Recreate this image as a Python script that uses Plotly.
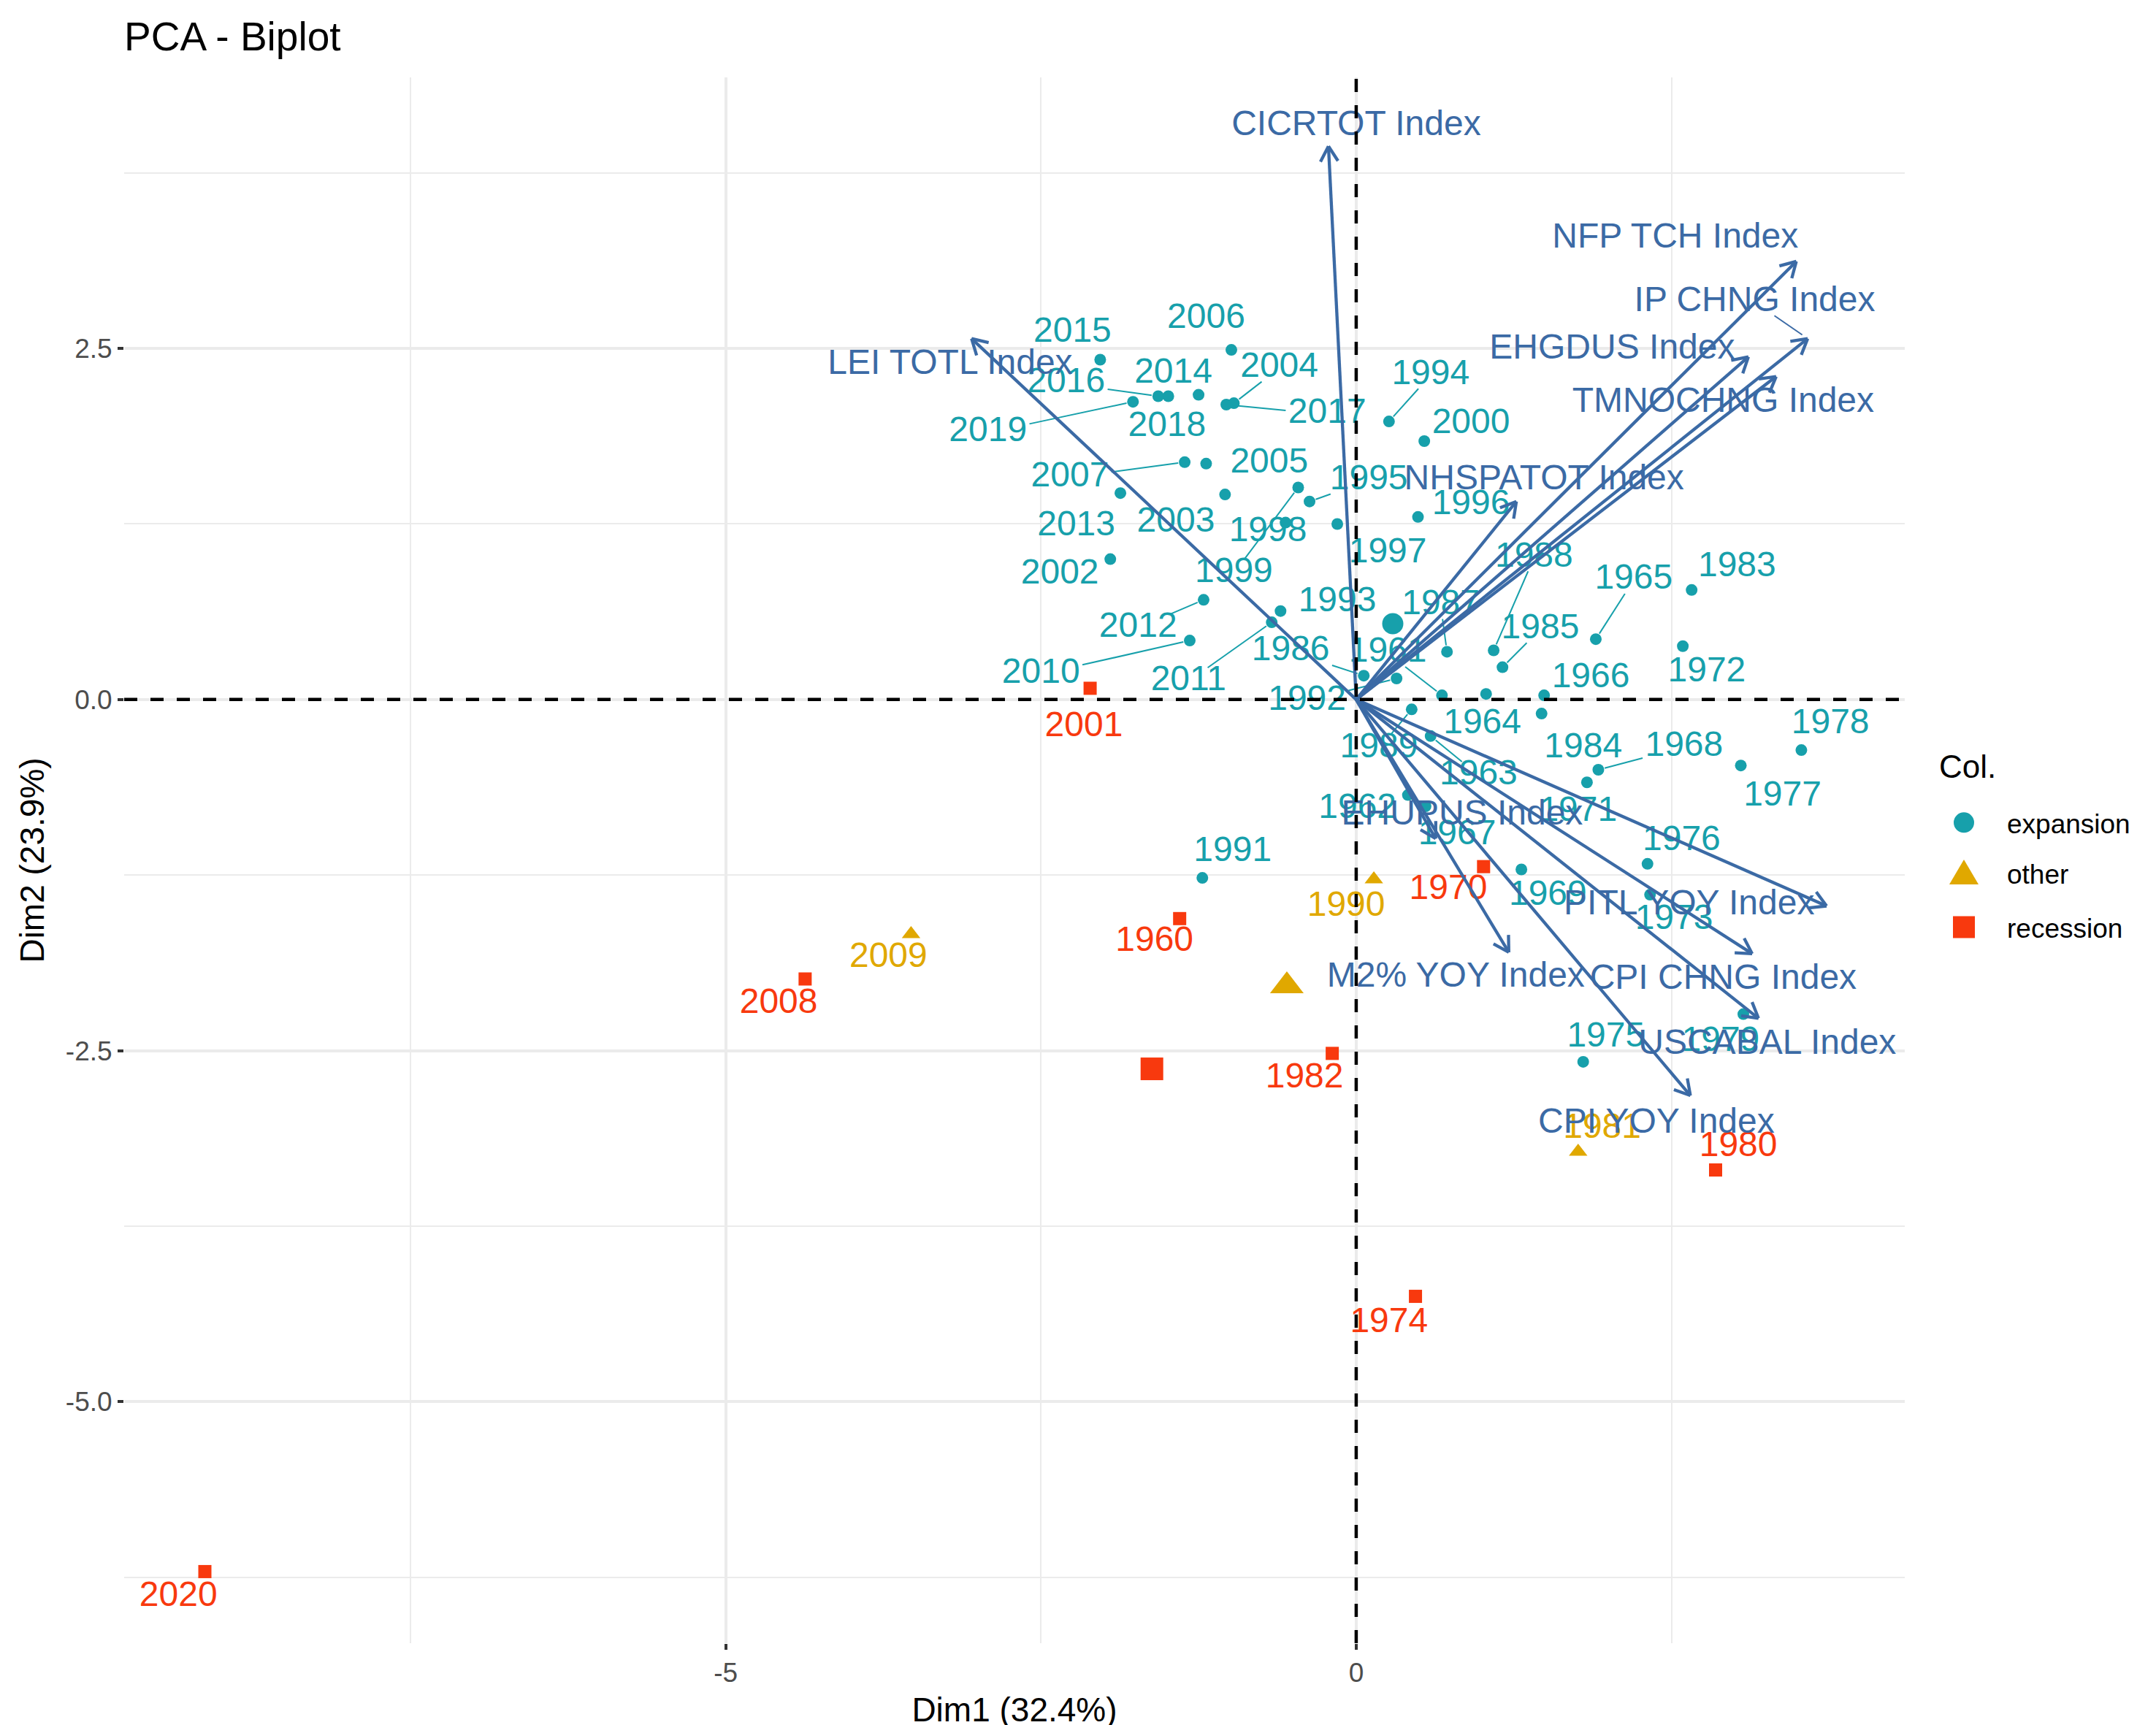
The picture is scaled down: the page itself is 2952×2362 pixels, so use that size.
import math
import plotly.graph_objects as go

# --- individuals (years) : PCA coordinates ---
exp_years = [1961, 1962, 1963, 1964, 1965, 1966, 1967, 1968, 1969, 1971,
             1972, 1973, 1975, 1976, 1977, 1978, 1979, 1983, 1984, 1985,
             1986, 1987, 1988, 1989, 1991, 1992, 1993, 1994, 1995, 1996,
             1997, 1998, 1999, 2000, 2002, 2003, 2004, 2005, 2006, 2007,
             2010, 2011, 2012, 2013, 2014, 2015, 2016, 2017, 2018, 2019]
exp_dim1 = [0.68, 0.41, 0.59, 1.03, 1.90, 1.49, 0.55, 1.92, 1.31, 1.83,
            2.59, 2.33, 1.80, 2.31, 3.05, 3.53, 3.07, 2.66, 1.47, 1.16,
            0.06, 0.72, 1.09, 0.44, -1.22, 0.32, -0.60, 0.26, -0.37, 0.49,
            -0.15, -0.56, -0.46, 0.54, -1.95, -1.04, -0.97, -1.19, -0.99, -1.36,
            -1.32, -0.67, -1.21, -1.87, -1.49, -2.03, -1.57, -1.03, -1.25, -1.77]
exp_dim2 = [0.03, -0.68, -0.26, 0.04, 0.43, 0.03, -0.76, -0.50, -1.21, -0.59,
            0.38, -1.39, -2.58, -1.17, -0.47, -0.36, -2.24, 0.78, -0.10, 0.23,
            0.17, 0.34, 0.35, -0.07, -1.27, 0.15, 0.63, 1.98, 1.41, 1.30,
            1.25, 1.26, 1.51, 1.84, 1.00, 1.46, 2.11, 1.68, 2.49, 1.69,
            0.42, 0.55, 0.71, 1.47, 2.16, 2.42, 2.16, 2.10, 2.17, 2.12]

oth_years = [1981, 1990, 2009]
oth_dim1 = [1.76, 0.14, -3.53]
oth_dim2 = [-3.22, -1.28, -1.67]

rec_years = [1960, 1970, 1974, 1980, 1982, 2001, 2008, 2020]
rec_dim1 = [-1.40, 1.01, 0.47, 2.85, -0.19, -2.11, -4.37, -9.13]
rec_dim2 = [-1.56, -1.19, -4.25, -3.35, -2.52, 0.08, -1.99, -6.21]

# group means (big markers)
centroid_dim1 = {"expansion": 0.29, "other": -0.55, "recession": -1.62}
centroid_dim2 = {"expansion": 0.54, "other": -2.04, "recession": -2.63}

# --- variables : arrow tips ---
var_names = ["CICRTOT Index", "NFP TCH Index", "IP CHNG Index", "EHGDUS Index",
             "TMNOCHNG Index", "LEI TOTL Index", "NHSPATOT Index", "EHUPUS Index",
             "M2% YOY Index", "PITL YOY Index", "CPI CHNG Index", "USCABAL Index",
             "CPI YOY Index"]
var_dim1 = [-0.22, 3.49, 3.58, 3.11, 3.33, -3.05, 1.27, 0.63, 1.21, 3.73, 3.14, 3.19, 2.65]
var_dim2 = [3.94, 3.12, 2.57, 2.44, 2.30, 2.57, 1.41, -0.99, -1.80, -1.47, -1.81, -2.27, -2.82]

# --- where the repelled labels ended up ---
label_pos = {
    "2015": (-2.25, 2.61), "2006": (-1.19, 2.71), "2014": (-1.45, 2.32), "2004": (-0.61, 2.36),
    "2016": (-2.30, 2.25), "2017": (-0.23, 2.03), "2019": (-2.92, 1.90), "2018": (-1.50, 1.94),
    "1994": (0.59, 2.31), "2000": (0.91, 1.96), "2007": (-2.27, 1.58), "2005": (-0.69, 1.68),
    "1995": (0.10, 1.56), "2013": (-2.22, 1.23), "2003": (-1.43, 1.26), "1996": (0.91, 1.38),
    "1998": (-0.70, 1.19), "1997": (0.25, 1.04), "2002": (-2.35, 0.89), "1999": (-0.97, 0.90),
    "1988": (1.41, 1.01), "1965": (2.20, 0.85), "1983": (3.02, 0.94), "1993": (-0.15, 0.69),
    "1987": (0.67, 0.67), "2012": (-1.73, 0.51), "1985": (1.46, 0.50), "1986": (-0.52, 0.34),
    "1961": (0.25, 0.33), "1972": (2.78, 0.19), "2010": (-2.50, 0.18), "2011": (-1.33, 0.13),
    "1966": (1.86, 0.15), "1992": (-0.39, -0.01), "1964": (1.00, -0.18), "1978": (3.76, -0.18),
    "1984": (1.80, -0.35), "1968": (2.60, -0.34), "1989": (0.18, -0.35), "1963": (0.97, -0.54),
    "1977": (3.38, -0.69), "1962": (0.01, -0.78), "1971": (1.76, -0.80), "1967": (0.80, -0.97),
    "1976": (2.58, -1.01), "1991": (-0.98, -1.09), "1969": (1.52, -1.40), "1973": (2.52, -1.57),
    "1975": (1.98, -2.41), "1979": (2.89, -2.44),
    "2001": (-2.16, -0.20), "1990": (-0.08, -1.48), "1970": (0.73, -1.36), "1960": (-1.60, -1.73),
    "2009": (-3.71, -1.84), "2008": (-4.58, -2.17), "1982": (-0.41, -2.70), "1981": (1.95, -3.06),
    "1980": (3.03, -3.19), "1974": (0.26, -4.44), "2020": (-9.34, -6.39),
    "CICRTOT Index": (0.00, 4.08), "NFP TCH Index": (2.53, 3.28), "IP CHNG Index": (3.16, 2.83),
    "EHGDUS Index": (2.03, 2.49), "LEI TOTL Index": (-3.22, 2.38), "TMNOCHNG Index": (2.91, 2.11),
    "NHSPATOT Index": (1.49, 1.56), "EHUPUS Index": (0.84, -0.83), "PITL YOY Index": (2.64, -1.47),
    "M2% YOY Index": (0.79, -1.98), "CPI CHNG Index": (2.91, -2.00), "USCABAL Index": (3.26, -2.46),
    "CPI YOY Index": (2.38, -3.02),
}
# labels that got a leader segment
seg_labels = ["2019", "2016", "2017", "2004", "2007", "1994", "1995", "1999", "2012",
              "2010", "2011", "1986", "1988", "1965", "1985", "1968", "1987", "1961",
              "1989", "1963", "1992", "IP CHNG Index"]

COL = {"expansion": "#17A0AB", "other": "#E0A800", "recession": "#F8390E"}
SYM = {"expansion": "circle", "other": "triangle-up", "recession": "square"}
SIZE = {"expansion": 16, "other": 22, "recession": 18}
BIG = {"expansion": 29, "other": 40, "recession": 31}
ARROW = "#3B6AA5"
FONT = "Liberation Sans"
LAB_FS = 48

# plot geometry (px) to place arrow heads / segments in screen space
FW, FH = 2952, 2362
ML, MR, MT, MB = 162, 352, 98, 108
X0, X1 = -9.77, 4.35
Y0, Y1 = -6.72, 4.43
PW, PH = FW - ML - MR, FH - MT - MB
sx = PW / (X1 - X0)
sy = PH / (Y1 - Y0)


def paper_x(px):
    return (px - ML) / PW


def paper_y(py):
    return (FH - MB - py) / PH


groups = {
    "expansion": (exp_years, exp_dim1, exp_dim2),
    "other": (oth_years, oth_dim1, oth_dim2),
    "recession": (rec_years, rec_dim1, rec_dim2),
}

fig = go.Figure()


def segment(lab, px, py):
    cx, cy = label_pos[lab]
    dx, dy = (px - cx) * sx, (py - cy) * sy
    hw = 0.5 * len(lab) * 0.55 * LAB_FS + 4
    hh = 0.5 * LAB_FS * 0.78
    t = min(hw / abs(dx) if dx else 1e9, hh / abs(dy) if dy else 1e9)
    if t >= 1:
        return None
    d = math.hypot(dx, dy)
    ex, ey = dx * (1 - 9 / d), dy * (1 - 9 / d)
    return [cx + dx * t / sx, cx + ex / sx], [cy + dy * t / sy, cy + ey / sy]


# leader segments for individuals
for g, (yrs, d1, d2) in groups.items():
    xs, ys = [], []
    for yr, a, b in zip(yrs, d1, d2):
        if str(yr) in seg_labels:
            s = segment(str(yr), a, b)
            if s:
                xs += s[0] + [None]
                ys += s[1] + [None]
    if xs:
        fig.add_trace(go.Scatter(x=xs, y=ys, mode="lines", line=dict(color=COL[g], width=2),
                                 showlegend=False, hoverinfo="skip"))

# individuals
for g, (yrs, d1, d2) in groups.items():
    fig.add_trace(go.Scatter(
        x=d1, y=d2, mode="markers", name=g, showlegend=False,
        marker=dict(color=COL[g], symbol=SYM[g], size=SIZE[g], line=dict(width=0)),
    ))
    fig.add_trace(go.Scatter(
        x=[centroid_dim1[g]], y=[centroid_dim2[g]], mode="markers", showlegend=False,
        marker=dict(color=COL[g], symbol=SYM[g], size=BIG[g], line=dict(width=0)),
    ))
    fig.add_trace(go.Scatter(
        x=[label_pos[str(y)][0] for y in yrs], y=[label_pos[str(y)][1] for y in yrs],
        mode="text", text=[str(y) for y in yrs], textposition="middle center",
        textfont=dict(color=COL[g], size=LAB_FS, family=FONT), showlegend=False, hoverinfo="skip",
    ))

# variable arrows
ax, ay, hx, hy = [], [], [], []
head = 24
for tx, ty in zip(var_dim1, var_dim2):
    ax += [0, tx, None]
    ay += [0, ty, None]
    ang = math.atan2(ty * sy, tx * sx)
    for s in (1, -1):
        a2 = ang + s * math.radians(30)
        hx += [tx - head * math.cos(a2) / sx, tx, None]
        hy += [ty - head * math.sin(a2) / sy, ty, None]
fig.add_trace(go.Scatter(x=ax, y=ay, mode="lines", line=dict(color=ARROW, width=4.3),
                         showlegend=False, hoverinfo="skip"))
fig.add_trace(go.Scatter(x=hx, y=hy, mode="lines", line=dict(color=ARROW, width=4.3),
                         showlegend=False, hoverinfo="skip"))

vx, vy = [], []
for n, tx, ty in zip(var_names, var_dim1, var_dim2):
    if n in seg_labels:
        s = segment(n, tx, ty)
        if s:
            vx += s[0] + [None]
            vy += s[1] + [None]
if vx:
    fig.add_trace(go.Scatter(x=vx, y=vy, mode="lines", line=dict(color=ARROW, width=2),
                             showlegend=False, hoverinfo="skip"))
fig.add_trace(go.Scatter(
    x=[label_pos[n][0] for n in var_names], y=[label_pos[n][1] for n in var_names],
    mode="text", text=var_names, textposition="middle center",
    textfont=dict(color=ARROW, size=LAB_FS, family=FONT), showlegend=False, hoverinfo="skip",
))

# dashed reference lines (drawn on top, like the original)
fig.add_shape(type="line", xref="x", yref="paper", x0=0, x1=0, y0=0, y1=1, layer="above",
              line=dict(color="black", width=4.5, dash="18px,18px"))
fig.add_shape(type="line", xref="paper", yref="y", x0=0, x1=1, y0=0, y1=0, layer="above",
              line=dict(color="black", width=4.5, dash="18px,18px"))

# legend drawn by hand (ggplot-like keys)
fig.add_annotation(text="Col.", xref="paper", yref="paper", x=paper_x(2645), y=paper_y(1047),
                   xanchor="left", yanchor="middle", showarrow=False,
                   font=dict(size=44, color="black", family=FONT))
key_x = paper_x(2681)
key_shapes = {
    "other": "M -20 -15 L 20 -15 L 0 19 Z",
    "recession": "M -15 -15 L 15 -15 L 15 15 L -15 15 Z",
}
for g, ky in zip(["expansion", "other", "recession"], [1124, 1194, 1268]):
    if g == "expansion":
        fig.add_shape(type="circle", xref="paper", yref="paper", xsizemode="pixel",
                      ysizemode="pixel", xanchor=key_x, yanchor=paper_y(ky),
                      x0=-14, x1=14, y0=-14, y1=14, fillcolor=COL[g], line=dict(width=0))
    else:
        fig.add_shape(type="path", xref="paper", yref="paper", xsizemode="pixel",
                      ysizemode="pixel", xanchor=key_x, yanchor=paper_y(ky),
                      path=key_shapes[g], fillcolor=COL[g], line=dict(width=0))
    fig.add_annotation(text=g, xref="paper", yref="paper", x=paper_x(2738), y=paper_y(ky + 2),
                       xanchor="left", yanchor="middle", showarrow=False,
                       font=dict(size=37, color="black", family=FONT))

fig.update_layout(
    width=FW, height=FH,
    margin=dict(l=ML, r=MR, t=MT, b=MB),
    paper_bgcolor="white", plot_bgcolor="white",
    font=dict(family=FONT, color="black"),
    showlegend=False,
    title=dict(text="PCA - Biplot", x=ML / FW, xanchor="left", y=1 - 42 / FH, yanchor="middle",
               font=dict(size=55, color="black")),
    xaxis=dict(
        range=[X0, X1], tickvals=[-5, 0], ticktext=["-5", "0"],
        showgrid=True, gridcolor="#EBEBEB", gridwidth=4.4, zeroline=False,
        minor=dict(tickvals=[-7.5, -2.5, 2.5], showgrid=True, gridcolor="#EBEBEB", gridwidth=2.2),
        ticks="outside", ticklen=8, tickwidth=4, tickcolor="#333333",
        tickfont=dict(size=37, color="#4D4D4D"),
        title=dict(text="Dim1 (32.4%)", font=dict(size=46), standoff=14),
        showline=False,
    ),
    yaxis=dict(
        range=[Y0, Y1], tickvals=[-5, -2.5, 0, 2.5], ticktext=["-5.0", "-2.5", "0.0", "2.5"],
        showgrid=True, gridcolor="#EBEBEB", gridwidth=4.4, zeroline=False,
        minor=dict(tickvals=[-6.25, -3.75, -1.25, 1.25, 3.75], showgrid=True,
                   gridcolor="#EBEBEB", gridwidth=2.2),
        ticks="outside", ticklen=8, tickwidth=4, tickcolor="#333333",
        tickfont=dict(size=37, color="#4D4D4D"),
        title=dict(text="Dim2 (23.9%)", font=dict(size=46), standoff=14),
        showline=False,
    ),
)

fig.write_html("out.html")
